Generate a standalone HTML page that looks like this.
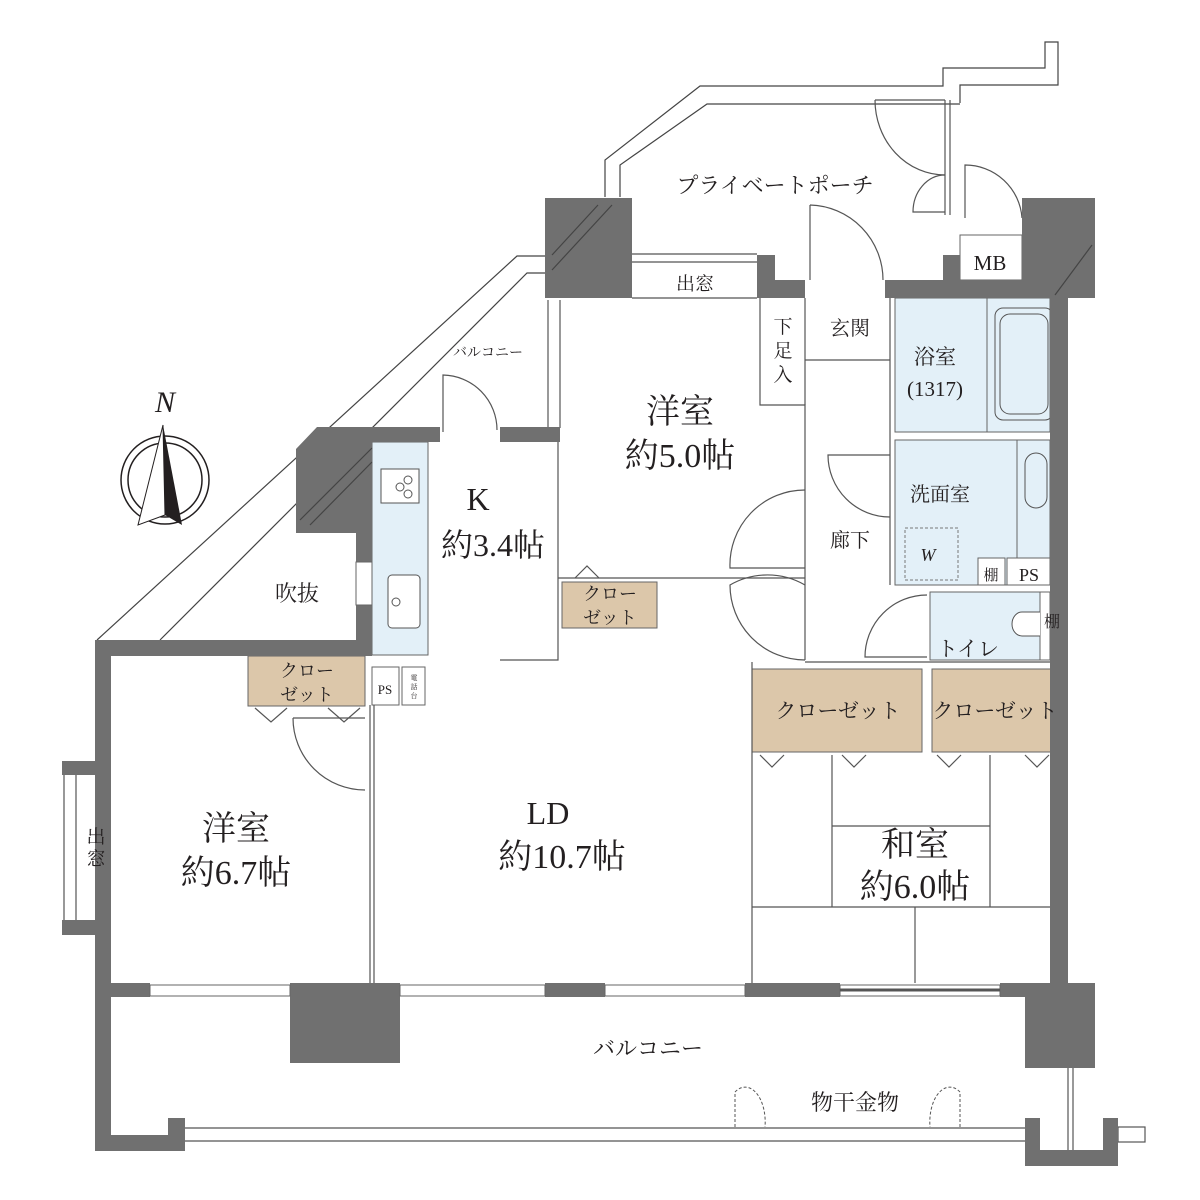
<!DOCTYPE html>
<html><head><meta charset="utf-8"><style>
html,body{margin:0;padding:0;background:#fff;}
svg{display:block;}
text{font-family:"Liberation Serif","Noto Serif CJK SC",serif;fill:#231f20;}
</style></head><body>
<svg width="1200" height="1200" viewBox="0 0 1200 1200" xmlns="http://www.w3.org/2000/svg">
<g fill="none" stroke="#444" stroke-width="1.2">
<polyline points="605,197 605,160 700,86 943,86 943,68 1045,68 1045,42 1058,42 1058,85 960,85 960,103"/>
<polyline points="620,197 620,165 707,104 960,104"/>
<polyline points="97,640 517,256 548,256"/>
<polyline points="160,640 527,273 548,273"/>
</g>
<rect x="895" y="298" width="155" height="134" fill="#e3f0f8" stroke="#666"/>
<line x1="987" y1="298" x2="987" y2="432" stroke="#666"/>
<rect x="995" y="308" width="58" height="112" rx="8" fill="none" stroke="#555"/>
<rect x="1000" y="314" width="48" height="100" rx="10" fill="none" stroke="#555"/>
<rect x="895" y="440" width="155" height="145" fill="#e3f0f8" stroke="#666"/>
<polyline points="1017,440 1017,560 1050,560" fill="none" stroke="#666"/>
<rect x="1025" y="453" width="22" height="55" rx="11" fill="none" stroke="#555"/>
<rect x="905" y="528" width="53" height="52" fill="none" stroke="#777" stroke-dasharray="3,2"/>
<rect x="978" y="558" width="27" height="27" fill="#fff" stroke="#666"/>
<rect x="1007" y="558" width="43" height="27" fill="#fff" stroke="#666"/>
<rect x="930" y="592" width="112" height="68" fill="#e3f0f8" stroke="#666"/>
<rect x="1040" y="592" width="10" height="68" fill="#fff" stroke="#666"/>
<path d="M1040,612 h-18 a10,12 0 0 0 0,24 h18" fill="#fff" stroke="#555"/>
<rect x="372" y="442" width="56" height="213" fill="#e3f0f8" stroke="#666"/>
<rect x="381" y="469" width="38" height="34" fill="#fff" stroke="#555"/>
<circle cx="408" cy="480" r="4" fill="none" stroke="#555"/><circle cx="400" cy="487" r="4" fill="none" stroke="#555"/><circle cx="408" cy="494" r="4" fill="none" stroke="#555"/>
<rect x="388" y="575" width="32" height="53" rx="4" fill="#fff" stroke="#555"/>
<circle cx="396" cy="602" r="4" fill="none" stroke="#555"/>
<rect x="372" y="667" width="27" height="38" fill="#fff" stroke="#666"/>
<rect x="402" y="667" width="23" height="38" fill="#fff" stroke="#666"/>
<rect x="248" y="656" width="117" height="50" fill="#dcc7aa" stroke="#666"/>
<rect x="562" y="582" width="95" height="46" fill="#dcc7aa" stroke="#666"/>
<rect x="752" y="669" width="170" height="83" fill="#dcc7aa" stroke="#666"/>
<rect x="932" y="669" width="128" height="83" fill="#dcc7aa" stroke="#666"/>
<rect x="960" y="235" width="62" height="45" fill="#fff" stroke="#666"/>
<g stroke="#555" stroke-width="1.2" fill="none">
<line x1="370" y1="705" x2="370" y2="983"/><line x1="374" y1="705" x2="374" y2="983"/>
<polyline points="558,442 558,660 500,660"/>
<polyline points="558,578 805,578"/>
<polyline points="760,298 760,405 805,405 805,660"/>
<line x1="805" y1="298" x2="805" y2="405"/>
<line x1="805" y1="360" x2="890" y2="360"/>
<line x1="890" y1="298" x2="890" y2="585"/>
<line x1="805" y1="662" x2="1050" y2="662"/>
<line x1="752" y1="662" x2="752" y2="983"/>
<line x1="832" y1="755" x2="832" y2="907"/><line x1="990" y1="755" x2="990" y2="907"/>
<line x1="832" y1="826" x2="990" y2="826"/><line x1="752" y1="907" x2="1050" y2="907"/>
<line x1="915" y1="907" x2="915" y2="983"/>
<line x1="632" y1="298" x2="757" y2="298"/>
<path d="M810,205 L810,280 M810,205 A75,75 0 0 1 883,280"/>
<path d="M875,100 L945,100 M875,100 A70,75 0 0 0 945,175"/>
<path d="M945,175 A32,37 0 0 0 913,212 L945,212"/>
<path d="M965,218 L965,165 A57,57 0 0 1 1022,218"/>
<path d="M443,432 L443,375 A55,55 0 0 1 497,430"/>
<path d="M805,490 A75,75 0 0 0 730,568 L805,568"/>
<path d="M805,585 A75,75 0 0 0 730,585 A75,75 0 0 0 805,660"/>
<path d="M890,455 L828,455 A62,62 0 0 0 890,517"/>
<path d="M927,595 A62,62 0 0 0 865,657 L927,657"/>
<path d="M293,718 L365,718 M293,718 A72,72 0 0 0 365,790"/>
<path d="M255,708 l16,14 l16,-14 M328,708 l16,14 l16,-14"/>
<path d="M760,755 l12,12 l12,-12 M842,755 l12,12 l12,-12 M937,755 l12,12 l12,-12 M1025,755 l12,12 l12,-12"/>
<path d="M575,578 l12,-12 l12,12"/>
<line x1="560" y1="300" x2="560" y2="428"/><line x1="548" y1="300" x2="548" y2="428"/>
<line x1="64" y1="775" x2="64" y2="920"/><line x1="76" y1="775" x2="76" y2="920"/>
<line x1="632" y1="254" x2="757" y2="254"/><line x1="632" y1="262" x2="757" y2="262"/>
<line x1="945" y1="100" x2="945" y2="215"/><line x1="950" y1="100" x2="950" y2="215"/>
<line x1="185" y1="1128" x2="1025" y2="1128"/><line x1="185" y1="1141" x2="1025" y2="1141"/>
<line x1="1068" y1="1068" x2="1068" y2="1150"/><line x1="1073" y1="1068" x2="1073" y2="1150"/>
<rect x="1118" y="1127" width="27" height="15"/>
</g>
<g stroke="#555" stroke-dasharray="3,2" fill="none">
<path d="M735,1127 V1092 A20,35 0 0 1 765,1127"/>
<path d="M960,1127 V1092 A20,35 0 0 0 930,1127"/>
</g>
<g fill="#707070">
<rect x="545" y="198" width="87" height="100"/>
<rect x="757" y="255" width="18" height="43"/><rect x="757" y="280" width="48" height="18"/>
<rect x="885" y="280" width="75" height="18"/><rect x="943" y="255" width="17" height="43"/>
<rect x="943" y="280" width="110" height="18"/>
<polygon points="1022,198 1095,198 1095,298 1068,298 1068,985 1050,985 1050,298 1022,280"/>
<polygon points="317,427 440,427 440,442 372,442 372,656 96,656 96,640 356,640 356,533 296,533 296,449"/>
<rect x="500" y="427" width="60" height="15"/>
<rect x="95" y="640" width="16" height="510"/>
<rect x="62" y="761" width="34" height="14"/><rect x="62" y="920" width="34" height="15"/>
<rect x="95" y="983" width="55" height="14"/>
<rect x="290" y="983" width="110" height="80"/>
<rect x="545" y="983" width="60" height="14"/>
<rect x="745" y="983" width="95" height="14"/>
<rect x="1000" y="983" width="68" height="14"/>
<rect x="1025" y="983" width="70" height="85"/>
<rect x="95" y="1135" width="90" height="16"/><rect x="168" y="1118" width="17" height="33"/>
<rect x="1025" y="1118" width="15" height="48"/><rect x="1025" y="1150" width="93" height="16"/><rect x="1103" y="1118" width="15" height="48"/>
</g>
<rect x="356" y="562" width="16" height="43" fill="#fff" stroke="#666"/>
<g fill="#fff" stroke="#666">
<rect x="150" y="985" width="140" height="11"/><rect x="400" y="985" width="145" height="11"/>
<rect x="605" y="985" width="140" height="11"/><rect x="840" y="985" width="160" height="11"/>
</g>
<g stroke="#555"><line x1="840" y1="990" x2="1000" y2="990" stroke-width="3"/></g>
<g stroke="#444" stroke-width="1.2">
<line x1="552" y1="255" x2="598" y2="205"/><line x1="552" y1="270" x2="612" y2="205"/>
<line x1="300" y1="520" x2="372" y2="448"/><line x1="310" y1="525" x2="372" y2="462"/>
<line x1="1055" y1="295" x2="1092" y2="245"/>
</g>
<g fill="none" stroke="#231f20" stroke-width="1.5">
<circle cx="165" cy="480" r="44"/><circle cx="165" cy="480" r="37"/>
</g>
<polygon points="163,425 138,525 165,515" fill="#fff" stroke="#231f20"/>
<polygon points="163,425 165,515 182,525" fill="#231f20"/>
<g font-size="22" text-anchor="middle">
<text x="775" y="193">プライベートポーチ</text>
<text x="695" y="290" font-size="19">出窓</text>
<text x="990" y="270" font-size="21">MB</text>
<text x="850" y="335" font-size="20">玄関</text>
<text x="783" y="333" font-size="19">下</text><text x="783" y="357" font-size="19">足</text><text x="783" y="381" font-size="19">入</text>
<text x="935" y="364" font-size="21">浴室</text><text x="935" y="396" font-size="21">(1317)</text>
<text x="680" y="423" font-size="34">洋室</text><text x="680" y="467" font-size="34">約5.0帖</text>
<text x="488" y="357" font-size="14">バルコニー</text>
<text x="165" y="412" font-size="30" font-style="italic">N</text>
<text x="478" y="510" font-size="32">K</text><text x="493" y="556" font-size="32">約3.4帖</text>
<text x="940" y="501" font-size="20">洗面室</text>
<text x="928" y="561" font-size="18" font-style="italic">W</text>
<text x="850" y="547" font-size="20">廊下</text>
<text x="991" y="580" font-size="15">棚</text><text x="1029" y="581" font-size="18">PS</text>
<text x="297" y="601" font-size="22">吹抜</text>
<text x="610" y="600" font-size="18">クロー</text><text x="610" y="624" font-size="18">ゼット</text>
<text x="968" y="656" font-size="21">トイレ</text><text x="1052" y="627" font-size="16">棚</text>
<text x="307" y="677" font-size="18">クロー</text><text x="307" y="701" font-size="18">ゼット</text>
<text x="385" y="694" font-size="13">PS</text>
<text x="414" y="680" font-size="7">電</text><text x="414" y="689" font-size="7">話</text><text x="414" y="698" font-size="7">台</text>
<text x="838" y="718" font-size="21">クローゼット</text><text x="995" y="718" font-size="21">クローゼット</text>
<text x="236" y="840" font-size="34">洋室</text><text x="236" y="884" font-size="34">約6.7帖</text>
<text x="96" y="843" font-size="19">出</text><text x="96" y="865" font-size="19">窓</text>
<text x="548" y="824" font-size="32">LD</text><text x="562" y="868" font-size="34">約10.7帖</text>
<text x="915" y="856" font-size="34">和室</text><text x="915" y="898" font-size="34">約6.0帖</text>
<text x="648" y="1056" font-size="22">バルコニー</text>
<text x="855" y="1110" font-size="22">物干金物</text>
</g>
</svg>
</body></html>
